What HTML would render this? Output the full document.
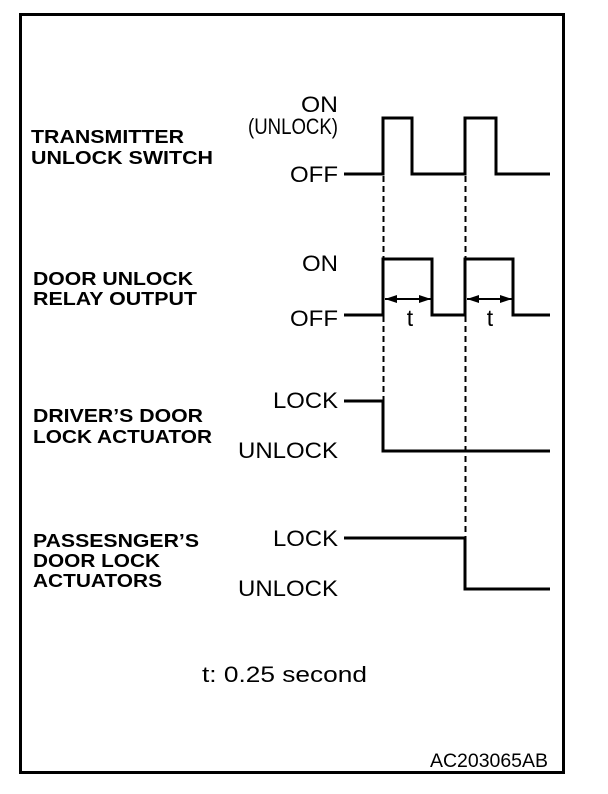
<!DOCTYPE html>
<html><head><style>html,body{margin:0;padding:0;background:#fff;}svg{display:block}</style></head>
<body>
<svg width="608" height="794" viewBox="0 0 608 794" xmlns="http://www.w3.org/2000/svg" font-family="Liberation Sans, Arial, sans-serif" font-size="22" fill="#000">
<rect x="20.5" y="14.5" width="543" height="758" fill="none" stroke="#000" stroke-width="3"/>
<g font-weight="bold" font-size="18.5">
<text x="31" y="143" textLength="153" lengthAdjust="spacingAndGlyphs">TRANSMITTER</text>
<text x="31" y="164" textLength="182" lengthAdjust="spacingAndGlyphs">UNLOCK SWITCH</text>
<text x="33" y="285" textLength="160" lengthAdjust="spacingAndGlyphs">DOOR UNLOCK</text>
<text x="33" y="305" textLength="164" lengthAdjust="spacingAndGlyphs">RELAY OUTPUT</text>
<text x="33" y="422" textLength="170" lengthAdjust="spacingAndGlyphs">DRIVER’S DOOR</text>
<text x="33" y="443" textLength="179" lengthAdjust="spacingAndGlyphs">LOCK ACTUATOR</text>
<text x="33" y="547" textLength="166" lengthAdjust="spacingAndGlyphs">PASSESNGER’S</text>
<text x="33" y="567" textLength="127" lengthAdjust="spacingAndGlyphs">DOOR LOCK</text>
<text x="33" y="587" textLength="129" lengthAdjust="spacingAndGlyphs">ACTUATORS</text>
</g>
<g>
<text x="301" y="112" textLength="37" lengthAdjust="spacingAndGlyphs">ON</text>
<text x="248" y="134" textLength="90" lengthAdjust="spacingAndGlyphs">(UNLOCK)</text>
<text x="290" y="182" textLength="48" lengthAdjust="spacingAndGlyphs">OFF</text>
<text x="302" y="271" textLength="36" lengthAdjust="spacingAndGlyphs">ON</text>
<text x="290" y="326" textLength="48" lengthAdjust="spacingAndGlyphs">OFF</text>
<text x="273" y="408" textLength="65" lengthAdjust="spacingAndGlyphs">LOCK</text>
<text x="238" y="458" textLength="100" lengthAdjust="spacingAndGlyphs">UNLOCK</text>
<text x="273" y="546" textLength="65" lengthAdjust="spacingAndGlyphs">LOCK</text>
<text x="238" y="596" textLength="100" lengthAdjust="spacingAndGlyphs">UNLOCK</text>
</g>
<g fill="none" stroke="#000" stroke-width="3">
<polyline points="344,174 383,174 383,118 412,118 412,174 465,174 465,118 496,118 496,174 550,174"/>
<polyline points="344,315 383,315 383,259 432,259 432,315 465,315 465,259 513,259 513,315 550,315"/>
<polyline points="344,401 383,401 383,451 550,451"/>
<polyline points="344,538 465,538 465,589 550,589"/>
</g>
<g stroke="#000" stroke-width="2" stroke-dasharray="6,4">
<line x1="383.5" y1="176" x2="383.5" y2="400"/>
<line x1="465.5" y1="176" x2="465.5" y2="537"/>
</g>
<g stroke="#000" stroke-width="2">
<line x1="385" y1="299" x2="431" y2="299"/>
<line x1="467" y1="299" x2="512" y2="299"/>
</g>
<g fill="#000">
<polygon points="385,299 397,295 397,303"/>
<polygon points="431,299 419,295 419,303"/>
<polygon points="467,299 479,295 479,303"/>
<polygon points="512,299 500,295 500,303"/>
</g>
<text x="410" y="326" text-anchor="middle" font-size="23">t</text>
<text x="490" y="326" text-anchor="middle" font-size="23">t</text>
<text x="202" y="682" textLength="165" lengthAdjust="spacingAndGlyphs">t: 0.25 second</text>
<text x="430" y="767" font-size="19" textLength="118" lengthAdjust="spacingAndGlyphs">AC203065AB</text>
</svg>
</body></html>
